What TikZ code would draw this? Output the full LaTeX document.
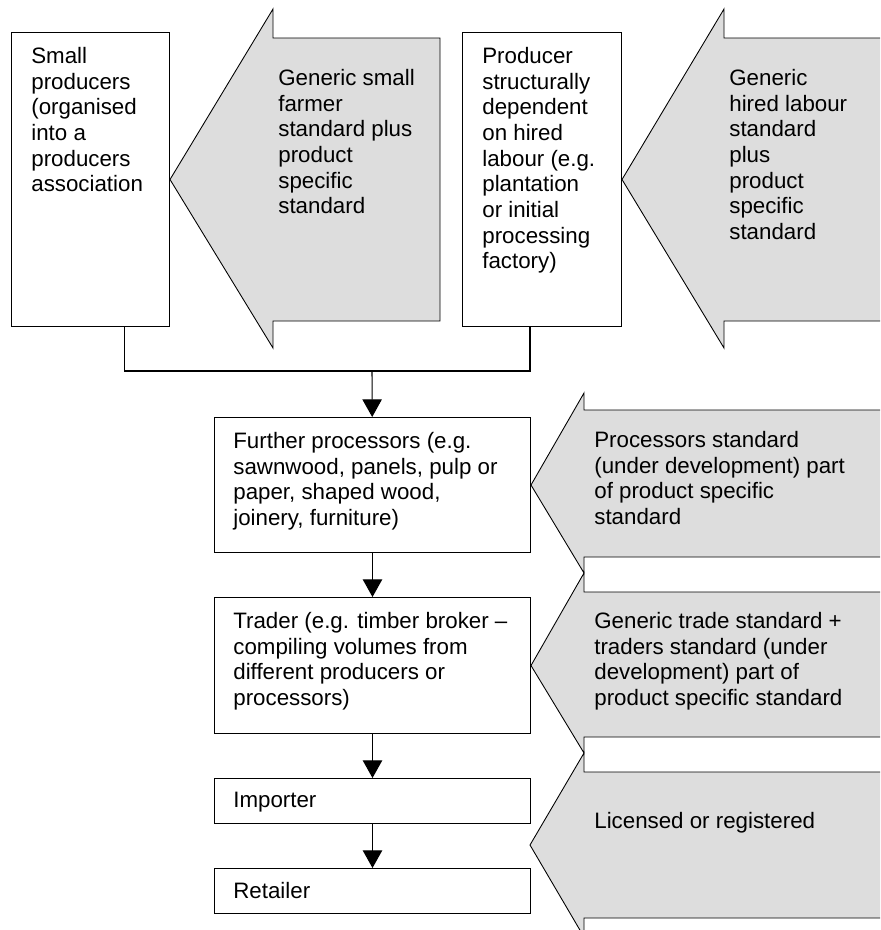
\documentclass[tikz,border=0pt]{standalone}
\usepackage{fontspec}
\setmainfont{Liberation Sans}
\usetikzlibrary{arrows.meta}
\definecolor{stdgray}{RGB}{221,221,221}
\tikzset{
  chainbox/.style={draw, line width=0.6pt, inner sep=0pt, anchor=north west},
  txt/.style={anchor=north west, inner sep=0pt, align=left,
    font=\fontsize{12.7}{14.6}\selectfont},
  stdarrow/.style={draw, fill=stdgray, line width=0.5pt}
}
\begin{document}
\begin{tikzpicture}[x=0.02cm,y=-0.02cm,>={Triangle[width=11pt,length=10pt]}]
    \useasboundingbox (0,0) rectangle (880,930);
    \clip (0,0) rectangle (880,930);
    % producers
    \node[chainbox, minimum width=3.16cm, minimum height=5.88cm] (small) at (11,32) {};
    \node[chainbox, minimum width=3.18cm, minimum height=5.88cm] (hired) at (462,32) {};
    % chain
    \node[chainbox, minimum width=6.32cm, minimum height=2.70cm] (proc) at (214,417) {};
    \node[chainbox, minimum width=6.32cm, minimum height=2.72cm] (trader) at (214,597) {};
    \node[chainbox, minimum width=6.32cm, minimum height=0.90cm] (importer) at (214,778) {};
    \node[chainbox, minimum width=6.32cm, minimum height=0.90cm] (retailer) at (214,868) {};
    \coordinate (join) at (372,371);
    \coordinate (lictip) at (530,845);
    % standards
    \draw[stdarrow] (small.east) -- (273,9) -- (273,38) -- (440,38) -- (440,321)
        -- (273,321) -- (273,348) -- cycle;
    \draw[stdarrow] (hired.east) -- (724,9) -- (724,38) -- (885,38) -- (885,321)
        -- (724,321) -- (724,348) -- cycle;
    \draw[stdarrow] (proc.east) -- (584,393) -- (584,410) -- (885,410) -- (885,557)
        -- (584,557) -- (584,573) -- cycle;
    \draw[stdarrow] (trader.east) -- (584,573) -- (584,592) -- (885,592) -- (885,737)
        -- (584,737) -- (584,753) -- cycle;
    \draw[stdarrow] (lictip) -- (584,753) -- (584,772) -- (885,772) -- (885,918)
        -- (584,918) -- (584,937) -- cycle;
    % texts
    \node[txt] (smalltxt) at ([shift={(20,15)}]small.north west) {Small\\producers\\(organised\\into a\\producers\\association};
    \node[txt] (hiredtxt) at ([shift={(20,15)}]hired.north west) {Producer\\structurally\\dependent\\on hired\\labour (e.g.\\plantation\\or initial\\processing\\factory)};
    \node[txt] (proctxt) at ([shift={(19,15)}]proc.north west) {Further processors (e.g.\\sawnwood, panels, pulp or\\paper, shaped wood,\\joinery, furniture)};
    \node[txt] (tradertxt) at ([shift={(19,15)}]trader.north west) {Trader (e.g. timber broker --\\compiling volumes from\\different producers or\\processors)};
    \node[txt] (importertxt) at ([shift={(19,14)}]importer.north west) {Importer};
    \node[txt] (retailertxt) at ([shift={(19,14)}]retailer.north west) {Retailer};
    \node[txt] (sfstd) at (278,69) {Generic small\\farmer\\standard plus\\product\\specific\\standard};
    \node[txt] (hlstd) at (729,69) {Generic\\hired labour\\standard\\plus\\product\\specific\\standard};
    \node[txt] (procstd) at (594,431) {Processors standard\\(under development) part\\of product specific\\standard};
    \node[txt] (tradestd) at (594,612) {Generic trade standard +\\traders standard (under\\development) part of\\product specific standard};
    \node[txt] (licstd) at (594,812) {Licensed or registered};
    % flow
    \draw[line width=0.6pt] ([shift={(34,0)}]small.south) |- (join) -| ([shift={(-12,0)}]hired.south);
    \draw[->,line width=0.6pt] (join) -- (proc);
    \draw[->,line width=0.6pt] (proc) -- (trader);
    \draw[->,line width=0.6pt] (trader) -- (importer);
    \draw[->,line width=0.6pt] (importer) -- (retailer);
\end{tikzpicture}
\end{document}
